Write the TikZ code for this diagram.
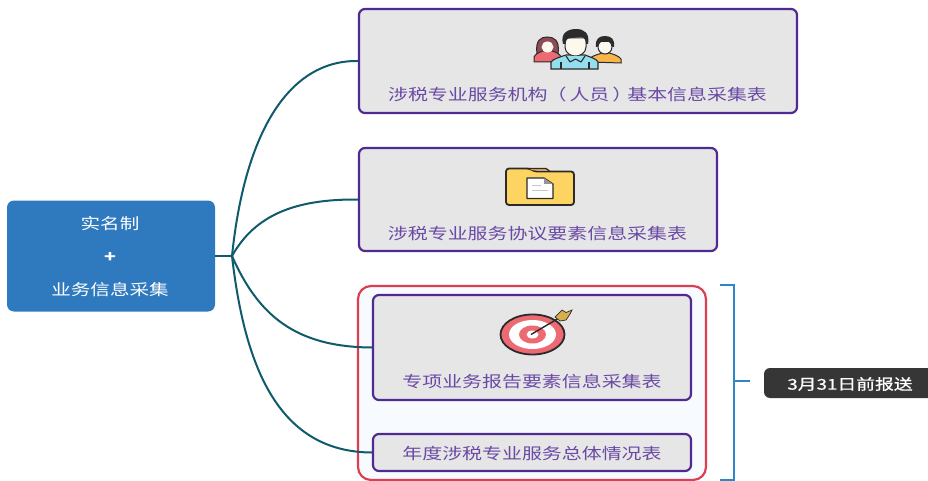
\documentclass[tikz,border=0pt]{standalone}
\usepackage{fontspec}
\setmainfont{Liberation Sans}
\newfontfamily\cjk[FakeStretch=1.27]{Noto Sans CJK SC}
\newfontfamily\cjkb[FakeStretch=1.27,FakeBold=0.6]{Noto Sans CJK SC}
\definecolor{purpleline}{HTML}{4F2A92}
\definecolor{purpletext}{HTML}{6A4AA5}
\definecolor{boxgrey}{HTML}{E6E6E6}
\definecolor{teal}{HTML}{0F5A6B}
\definecolor{rootblue}{HTML}{2F79BF}
\definecolor{brackblue}{HTML}{2C86C9}
\definecolor{groupred}{HTML}{DD3F50}
\definecolor{groupfill}{HTML}{F7FAFE}
\definecolor{darklabel}{HTML}{363636}
\definecolor{ink}{HTML}{2B2B2B}
\definecolor{pinkred}{HTML}{EE6A72}
\definecolor{hairred}{HTML}{8E4B55}
\definecolor{skin}{HTML}{FCF8EE}
\definecolor{shirt}{HTML}{93DFEE}
\definecolor{orangeshirt}{HTML}{F9B44A}
\definecolor{folder}{HTML}{FDD361}
\definecolor{tabor}{HTML}{F5A94A}
\definecolor{goldfeather}{HTML}{D9AE4C}
\tikzset{
  formbox/.style={draw=purpleline,line width=2.2pt,fill=boxgrey,rounded corners=6pt,inner sep=0pt},
  formtext/.style={text=purpletext,font=\cjk\fontsize{15.7}{18}\selectfont,inner sep=0pt},
  roottext/.style={text=white,font=\cjk\fontsize{15.4}{18}\selectfont,inner sep=0pt},
  branch/.style={draw=teal,line width=2pt},
  bracketline/.style={draw=brackblue,line width=2.2pt},
  iconline/.style={draw=ink,line width=1.1pt,line join=round}
}
\begin{document}
\begin{tikzpicture}[x=1pt,y=-1pt]
\useasboundingbox (0,0) rectangle (928,481);
% root
\node[fill=rootblue,rounded corners=7pt,minimum width=208pt,minimum height=111pt,inner sep=0pt] (root) at (111,256) {};
\node[roottext] (t1) at (110,224) {实名制};
\node[roottext] (t2) at (110,257) {\textbf{+}};
\node[roottext] (t3) at (110,289.5) {业务信息采集};
% group
\node[draw=groupred,line width=2.2pt,fill=groupfill,rounded corners=13pt,minimum width=348pt,minimum height=194pt,inner sep=0pt] (group) at (532,383) {};
% boxes
\node[formbox,minimum width=438pt,minimum height=104pt] (b1) at (578,61) {};
\node[formbox,minimum width=358pt,minimum height=103pt] (b2) at (538,199.5) {};
\node[formbox,minimum width=318pt,minimum height=105pt] (b3) at (532,347.5) {};
\node[formbox,minimum width=318pt,minimum height=37pt] (b4) at (532,452.5) {};
\node[formtext] (l1) at (577.5,94.5) {涉税专业服务机构\kern-1pt（\kern3pt人员\kern3pt）\kern-5pt基本信息采集表};
\node[formtext] (l2) at (537.5,233.5) {涉税专业服务协议要素信息采集表};
\node[formtext] (l3) at (532,381.5) {专项业务报告要素信息采集表};
\node[formtext] (l4) at (532,453.5) {年度涉税专业服务总体情况表};
% connectors
\coordinate (hub) at (232,256);
\draw[branch] (root.east) -- (hub);
\draw[branch] (hub) .. controls (245,130) and (290,60) .. (b1.west);
\draw[branch] (hub) .. controls (255,215) and (295,199) .. (b2.west);
\draw[branch] (hub) .. controls (258,315) and (295,347) .. (b3.west);
\draw[branch] (hub) .. controls (245,370) and (280,452) .. (b4.west);
% bracket
\coordinate (bt) at (720,285);
\coordinate (bb) at (720,480);
\coordinate (bm) at (734,381);
\coordinate (bn) at (750,381);
\draw[bracketline,line join=miter] (bt) -| (734,480) -- (bb);
\draw[bracketline] (bm) -- (bn);
\node[fill=darklabel,rounded corners=6pt,minimum width=170pt,minimum height=30pt,inner sep=0pt] (note) at (849,383) {};
\node[text=white,font=\cjkb\fontsize{14.8}{18}\selectfont,inner sep=0pt] (notet) at (850,384) {3月31日前报送};
% people icon
\fill[hairred,draw=ink,line width=1pt] (537,54) .. controls (535,40) and (541,37) .. (547,37) .. controls (554,37) and (560,40) .. (558,54) -- cycle;
\fill[pinkred,draw=ink,line width=1pt] (534,62) -- (534,57) .. controls (535,54) and (540,52) .. (543,51) -- (552,51) .. controls (556,52) and (560,54) .. (561,57) -- (561,62) -- cycle;
\fill[skin] (547.5,47) ellipse (6pt and 5.5pt);
\fill[orangeshirt,draw=ink,line width=1pt] (590,62) -- (590,58) .. controls (594,55) and (600,54) .. (602,53) -- (609,53) .. controls (613,54) and (619,56) .. (621,59) -- (621,63) -- cycle;
\fill[skin,draw=ink,line width=1pt] (605,47) ellipse (7pt and 7pt);
\fill[ink] (596,47) .. controls (595,39) and (599,36) .. (605,36) .. controls (611,36) and (615,39) .. (614,47) -- (612.5,47) .. controls (612,44) and (611,42) .. (609,42) -- (601,42) .. controls (599,42) and (598,44) .. (597.5,47) -- cycle;
\fill[shirt,draw=ink,line width=1.1pt] (551,69) -- (551,62) .. controls (553,59) and (560,57) .. (566,55) -- (585,55) .. controls (590,57) and (597,59) .. (598,62) -- (598,69) -- cycle;
\fill[skin,draw=ink,line width=1pt] (565,38) -- (586,38) -- (586,47) .. controls (586,53) and (580,56) .. (575.5,56) .. controls (571,56) and (565,53) .. (565,47) -- cycle;
\fill[ink] (563,44) .. controls (560,33) and (568,29) .. (576,29) .. controls (584,29) and (590,33) .. (588,44) -- (586,44) .. controls (586,40) and (584,37) .. (581,37) -- (571,38) .. controls (567,38) and (566,40) .. (565.5,44) -- cycle;
\draw[iconline,fill=shirt] (566,56) -- (570,62) -- (575.5,59) -- (581,62) -- (585,56);
\draw[iconline] (561,62) -- (561,69) (589,62) -- (589,69);
% folder icon
\draw[draw=ink,line width=1.8pt,fill=folder,rounded corners=3pt] (506,205) -- (506,168.5) -- (530,168.5) -- (534,171.5) -- (574,171.5) -- (574,205) -- cycle;
\fill[tabor] (528.5,168.5) -- (547,168.5) -- (550,170.5) -- (533,170.5) -- cycle;
\draw[draw=ink,line width=1.2pt] (528,168.5) -- (546,168.5) -- (550,171.5);
\draw[iconline,fill=white,line width=1.3pt] (527,178) -- (544,178) -- (553,184) -- (553,198.5) -- (527,198.5) -- cycle;
\fill[ink!50] (544,178) -- (544,184) -- (553,184) -- cycle;
\draw[draw=gray!45,line width=.8pt] (532,185) -- (541,185) (532,190) -- (548,190);
% target icon
\fill[pinkred,draw=ink,line width=1.8pt] (532.5,334.5) ellipse (32pt and 20pt);
\fill[white] (532.5,334.5) ellipse (23.5pt and 14.5pt);
\fill[pinkred] (532.5,334.5) ellipse (13.5pt and 9pt);
\fill[white] (532.5,334.5) ellipse (6pt and 4pt);
\draw[ink,line width=1.4pt] (531,334.5) -- (559,318);
\fill[goldfeather,draw=ink,line width=.7pt] (555,317) -- (562,310) -- (566,312.5) -- (572,310) -- (570,314) -- (566,320) -- (560,321) -- cycle;
\end{tikzpicture}
\end{document}
